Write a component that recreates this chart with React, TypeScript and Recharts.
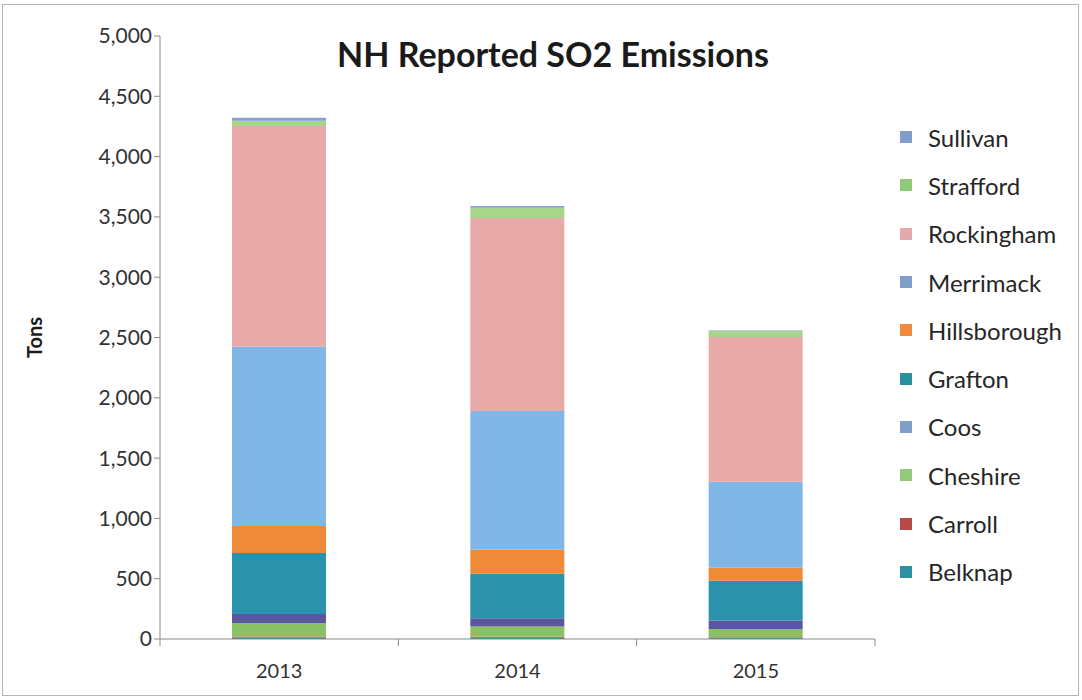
import React from 'react';
import { BarChart, Bar, XAxis, YAxis, Legend } from 'recharts';

const years = ['2013', '2014', '2015'];
const belknap = [12, 10, 10];
const carroll = [8, 8, 5];
const cheshire = [113, 85, 68];
const coos = [75, 70, 70];
const grafton = [505, 368, 330];
const hillsborough = [225, 200, 108];
const merrimack = [1485, 1150, 713];
const rockingham = [1830, 1600, 1200];
const strafford = [45, 85, 50];
const sullivan = [25, 15, 5];
const yTicks = [0, 500, 1000, 1500, 2000, 2500, 3000, 3500, 4000, 4500, 5000];

const seriesDefs = [
  { key: 'Belknap', values: belknap, color: '#2f8fa3', legend: '#2f8fa3' },
  { key: 'Carroll', values: carroll, color: '#b8474a', legend: '#b8474a' },
  { key: 'Cheshire', values: cheshire, color: '#8cc163', legend: '#93c97a' },
  { key: 'Coos', values: coos, color: '#5a579f', legend: '#7f9fc8' },
  { key: 'Grafton', values: grafton, color: '#2a92ab', legend: '#2a8f9c' },
  { key: 'Hillsborough', values: hillsborough, color: '#ef8a38', legend: '#ef8a3e' },
  { key: 'Merrimack', values: merrimack, color: '#80b7e6', legend: '#7f9fc8' },
  { key: 'Rockingham', values: rockingham, color: '#e8aaa8', legend: '#e3a9ab' },
  { key: 'Strafford', values: strafford, color: '#a6d68c', legend: '#8fc97a' },
  { key: 'Sullivan', values: sullivan, color: '#8b9fd2', legend: '#7f9fc8' },
];

const data = years.map((y, i) => {
  const row: any = { year: y, idx: i + 0.5 };
  seriesDefs.forEach((s) => (row[s.key] = s.values[i]));
  return row;
});

const FONT = 'Lato, "Open Sans", sans-serif';

const LegendContent = () => (
  <div style={{ fontFamily: FONT }}>
    {[...seriesDefs].reverse().map((s) => (
      <div key={s.key} style={{ display: 'flex', alignItems: 'center', height: 48.3 }}>
        <div style={{ width: 12, height: 12, background: s.legend, marginRight: 16 }} />
        <span style={{ fontSize: 24, color: '#262626' }}>{s.key}</span>
      </div>
    ))}
  </div>
);

export default function App() {
  return (
    <div style={{ position: 'absolute', left: 0, top: 0, width: 1082, height: 700, background: '#fff' }}>
      <div
        style={{
          position: 'absolute',
          left: 2,
          top: 4,
          width: 1077,
          height: 692,
          border: '1px solid #b5b5b5',
          boxSizing: 'border-box',
        }}
      />
      <div
        style={{
          position: 'absolute',
          left: 0,
          width: 1106,
          top: 33,
          textAlign: 'center',
          fontFamily: FONT,
          fontWeight: 'bold',
          fontSize: 34,
          color: '#1a1a1a',
          zIndex: 2,
        }}
      >
        NH Reported SO2 Emissions
      </div>
      <BarChart
        width={1082}
        height={700}
        data={data}
        margin={{ top: 36, right: 27, bottom: 30, left: 0 }}
        barSize={94}
      >
        <XAxis
          xAxisId="a"
          type="number"
          dataKey="idx"
          domain={[0, 3]}
          ticks={[0, 1, 2, 3]}
          tick={() => <g />}
          tickSize={7}
          axisLine={{ stroke: '#8a8a8a' }}
          tickLine={{ stroke: '#8a8a8a' }}
          height={1}
        />
        <XAxis
          dataKey="year"
          xAxisId="b"
          tickLine={false}
          axisLine={false}
          tick={{ fontSize: 20, fill: '#333', fontFamily: FONT }}
          tickMargin={18}
          height={30}
        />
        <YAxis
          width={160}
          domain={[0, 5000]}
          ticks={yTicks}
          interval={0}
          tickFormatter={(v: number) => v.toLocaleString('en-US')}
          tick={{ fontSize: 21, fill: '#333', fontFamily: FONT }}
          axisLine={{ stroke: '#8a8a8a' }}
          tickLine={{ stroke: '#8a8a8a' }}
          tickSize={6}
          label={{
            value: 'Tons',
            angle: -90,
            position: 'insideLeft',
            offset: 35,
            style: { fontSize: 20, fontWeight: 'bold', fill: '#1a1a1a', fontFamily: FONT, textAnchor: 'middle' },
          }}
        />
        {seriesDefs.map((s) => (
          <Bar
            key={s.key}
            dataKey={s.key}
            stackId="a"
            xAxisId="b"
            fill={s.color}
            isAnimationActive={false}
          />
        ))}
        <Legend
          content={<LegendContent />}
          layout="vertical"
          verticalAlign="top"
          align="right"
          wrapperStyle={{ left: 900, top: 113, width: 180 }}
        />
      </BarChart>
    </div>
  );
}
